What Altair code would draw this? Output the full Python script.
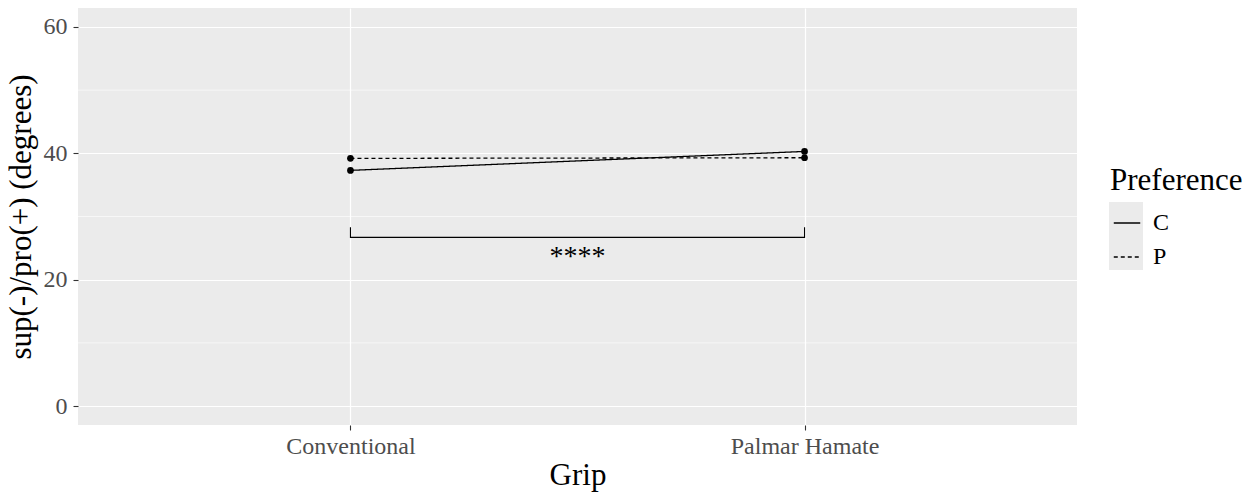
import altair as alt
import pandas as pd

grips = ["Conventional", "Palmar Hamate"]
grip_pos = [1, 2]
pref_c = [37.3, 40.3]
pref_p = [39.2, 39.3]
minor_y = [10, 30, 50]
bracket_y = 26.7
bracket_tip = 28.3
stars_y = 24.0
stars_label = "****"

rows = []
for g, x, c, p in zip(grips, grip_pos, pref_c, pref_p):
    rows.append({"Grip": g, "x": x, "Preference": "C", "value": c})
    rows.append({"Grip": g, "x": x, "Preference": "P", "value": p})
df = pd.DataFrame(rows)

FONT = "Liberation Serif"
xscale = alt.Scale(domain=[0.4, 2.6], nice=False, zero=False)
yscale = alt.Scale(domain=[-3, 63], nice=False, zero=False)

label_expr = "datum.value == 1 ? '%s' : '%s'" % (grips[0], grips[1])

minor = alt.Chart(pd.DataFrame({"y": minor_y})).mark_rule(
    color="white", strokeWidth=0.6
).encode(y=alt.Y("y:Q", scale=yscale))

# grey legend key background (ggplot style)
keybg = alt.Chart(pd.DataFrame({"k": [0]})).mark_rect(color="#EBEBEB", clip=False).encode(
    x=alt.value(1031), x2=alt.value(1065), y=alt.value(194), y2=alt.value(262)
)

lines = alt.Chart(df).mark_line(color="black", strokeWidth=1.3).encode(
    x=alt.X(
        "x:Q",
        scale=xscale,
        axis=alt.Axis(
            values=grip_pos,
            labelExpr=label_expr,
            title="Grip",
            grid=True,
        ),
    ),
    y=alt.Y(
        "value:Q",
        scale=yscale,
        axis=alt.Axis(values=[0, 20, 40, 60], title="sup(-)/pro(+) (degrees)", grid=True),
    ),
    strokeDash=alt.StrokeDash(
        "Preference:N",
        scale=alt.Scale(domain=["C", "P"], range=[[1, 0], [4, 3]]),
        legend=alt.Legend(
            title="Preference",
            orient="none",
            legendX=1032,
            legendY=158,
            symbolType="stroke",
            symbolStrokeColor="black",
            symbolStrokeWidth=1.3,
            symbolSize=700,
            symbolOffset=3,
            titleFont=FONT,
            titleFontSize=31,
            titleFontWeight="normal",
            titleColor="black",
            labelFont=FONT,
            labelFontSize=24,
            labelColor="black",
            labelOffset=12,
            rowPadding=8,
            titlePadding=12,
            padding=0,
        ),
    ),
    detail="Preference:N",
)

points = alt.Chart(df).mark_circle(color="black", opacity=1, size=45).encode(
    x=alt.X("x:Q", scale=xscale),
    y=alt.Y("value:Q", scale=yscale),
)

bdf = pd.DataFrame({
    "x": [grip_pos[0], grip_pos[0], grip_pos[1], grip_pos[1]],
    "y": [bracket_tip, bracket_y, bracket_y, bracket_tip],
    "o": [0, 1, 2, 3],
})
bracket = alt.Chart(bdf).mark_line(color="black", strokeWidth=1.1).encode(
    x=alt.X("x:Q", scale=xscale),
    y=alt.Y("y:Q", scale=yscale),
    order="o:Q",
)

stars = alt.Chart(pd.DataFrame({"x": [sum(grip_pos) / 2], "y": [stars_y], "t": [stars_label]})).mark_text(
    font=FONT, fontSize=28, color="black", baseline="middle", dy=3
).encode(
    x=alt.X("x:Q", scale=xscale),
    y=alt.Y("y:Q", scale=yscale),
    text="t:N",
)

chart = alt.layer(keybg, minor, lines, points, bracket, stars).properties(
    width=999,
    height=417,
    autosize=alt.AutoSizeParams(type="none"),
    padding={"left": 70, "top": 0, "right": 170, "bottom": 68},
).configure_view(
    fill="#EBEBEB", stroke=None
).configure_axis(
    gridColor="white",
    gridWidth=1.2,
    domain=False,
    tickColor="#333333",
    tickSize=5,
    tickWidth=1.1,
    labelFont=FONT,
    labelFontSize=24,
    labelColor="#4D4D4D",
    titleFont=FONT,
    titleFontSize=31,
    titleFontWeight="normal",
    titleColor="black",
    labelPadding=4,
).configure_axisY(
    titlePadding=6,
    labelPadding=6,
).configure_axisX(
    titlePadding=2,
)

chart.save("out.html", embed_options={"renderer": "svg", "actions": False})
